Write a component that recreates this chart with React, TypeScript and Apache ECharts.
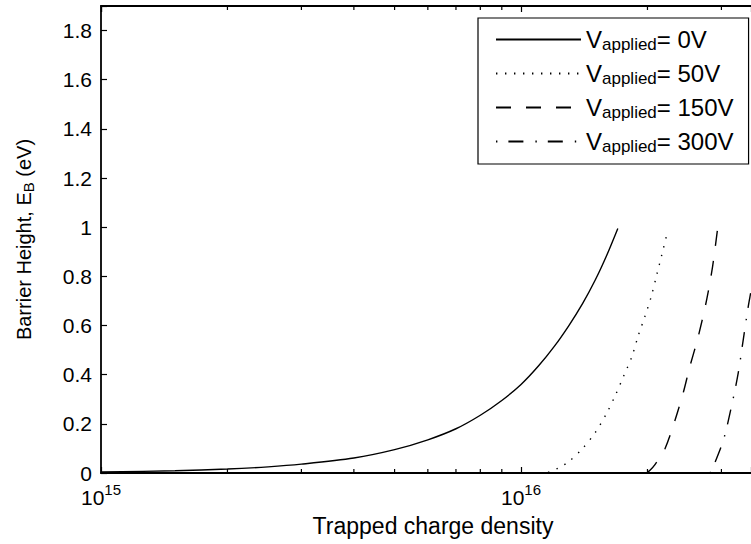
import React, { useEffect, useRef } from "react";
import * as echarts from "echarts";

// ---- data ----
const seriesNames = ["0V", "50V", "150V", "300V"];

const v0X = [1e15, 1.5e15, 2e15, 2.5e15, 3e15, 4e15, 5e15, 6e15, 7e15, 8e15, 9e15, 1e16, 1.1e16, 1.2e16, 1.3e16, 1.4e16, 1.5e16, 1.6e16, 1.7e16];
const v0Y = [0.004, 0.009, 0.016, 0.025, 0.036, 0.061, 0.095, 0.135, 0.18, 0.235, 0.295, 0.36, 0.435, 0.515, 0.6, 0.688, 0.783, 0.886, 0.995];

const v50X = [1.16e16, 1.227e16, 1.3e16, 1.393e16, 1.5e16, 1.6e16, 1.679e16, 1.754e16, 1.837e16, 1.901e16, 1.972e16, 2.042e16, 2.104e16, 2.163e16, 2.228e16];
const v50Y = [0.002, 0.02, 0.047, 0.095, 0.163, 0.244, 0.318, 0.393, 0.474, 0.558, 0.637, 0.718, 0.806, 0.887, 0.976];

const v150X = [1.991e16, 2.028e16, 2.084e16, 2.203e16, 2.328e16, 2.432e16, 2.523e16, 2.642e16, 2.767e16, 2.858e16, 2.938e16];
const v150Y = [0.0, 0.011, 0.034, 0.1, 0.217, 0.325, 0.433, 0.555, 0.705, 0.84, 0.995];

const v300X = [2.818e16, 2.871e16, 3.034e16, 3.17e16, 3.289e16, 3.381e16, 3.475e16, 3.532e16, 3.63e16, 3.73e16];
const v300Y = [0.0, 0.027, 0.135, 0.271, 0.406, 0.542, 0.677, 0.745, 0.87, 1.0];

const minorTickX = [2e15, 3e15, 4e15, 5e15, 6e15, 7e15, 8e15, 9e15, 2e16, 3e16];

const X_MIN = 1e15;
const X_MAX = 3.528e16;
const Y_MIN = 0;
const Y_MAX = 1.9;
const Y_INTERVAL = 0.2;

const FONT = "'Liberation Sans', Arial, Helvetica, sans-serif";

const zip = (xs: number[], ys: number[]) => xs.map((x, i) => [x, ys[i]]);

export default function App() {
  const ref = useRef<HTMLDivElement>(null);

  useEffect(() => {
    if (!ref.current) return;
    const chart = echarts.init(ref.current, undefined, { renderer: "svg" });

    const lineStyles: any[] = [
      { type: "solid", width: 1.4 },
      { type: [1.4, 7.6], width: 1.4 },
      { type: [15, 15], width: 1.4 },
      { type: [1.4, 11, 15, 12], width: 1.4 },
    ];
    const datas = [zip(v0X, v0Y), zip(v50X, v50Y), zip(v150X, v150Y), zip(v300X, v300Y)];

    const lineSeries = seriesNames.map((n, i) => ({
      name: n,
      type: "line",
      data: datas[i],
      symbol: "none",
      showSymbol: false,
      smooth: 0.3,
      clip: true,
      lineStyle: { color: "#000", ...lineStyles[i] },
      itemStyle: { color: "#000" },
    }));

    const axisTextCommon = { color: "#000", fontFamily: FONT };
    const axisLineStyle = { color: "#000", width: 1.8 };

    chart.setOption({
      animation: false,
      backgroundColor: "#fff",
      textStyle: { fontFamily: FONT, color: "#000" },
      grid: { left: 101, right: 0, top: 6, bottom: 71, containLabel: false, outerBoundsMode: "none" },
      legend: {
        data: seriesNames,
        orient: "vertical",
        left: 478,
        top: 18,
        itemWidth: 85,
        itemHeight: 14,
        itemGap: 7,
        padding: [8, 15, 9, 17],
        borderColor: "#000",
        borderWidth: 1.2,
        backgroundColor: "#fff",
        selectedMode: false,
        itemStyle: { color: "rgba(0,0,0,0)", borderWidth: 0, opacity: 0 },
        formatter: (name: string) => `{v|V}{sub|applied}{v|= ${name}}`,
        textStyle: {
          ...axisTextCommon,
          rich: {
            v: { fontSize: 24, fontFamily: FONT, color: "#000", lineHeight: 24 },
            sub: { fontSize: 17, fontFamily: FONT, color: "#000", padding: [10, 0, 0, 0], lineHeight: 16 },
          },
        },
      },
      xAxis: [
        {
          type: "log",
          logBase: 10,
          min: X_MIN,
          max: X_MAX,
          position: "bottom",
          name: "Trapped charge density",
          nameLocation: "middle",
          nameGap: 41,
          nameMoveOverlap: false,
          nameTextStyle: { ...axisTextCommon, fontSize: 23, padding: [0, 0, 0, 14] },
          axisLine: { lineStyle: axisLineStyle },
          axisTick: { inside: true, length: 6, lineStyle: { color: "#000", width: 1.2 } },
          splitLine: { show: false },
          axisLabel: {
            margin: 9,
            ...axisTextCommon,
            formatter: (v: number) => {
              const l = Math.log10(v);
              const e = Math.round(l);
              if (Math.abs(l - e) > 1e-6) return "";
              return `{b|10}{s|${e}}`;
            },
            rich: {
              b: { fontSize: 21, fontFamily: FONT, color: "#000", lineHeight: 21, padding: [10, 0, 0, 0] },
              s: { fontSize: 15, fontFamily: FONT, color: "#000", lineHeight: 16, verticalAlign: "top" },
            },
          },
        },
        {
          type: "log",
          logBase: 10,
          min: X_MIN,
          max: X_MAX,
          position: "top",
          axisLine: { lineStyle: axisLineStyle },
          axisTick: { inside: true, length: 6, lineStyle: { color: "#000", width: 1.2 } },
          axisLabel: { show: false },
          splitLine: { show: false },
        },
      ],
      yAxis: {
        type: "value",
        min: Y_MIN,
        max: Y_MAX,
        interval: Y_INTERVAL,
        name: "{a|Barrier Height, E}{sub|B}{a| (eV)}",
        nameLocation: "middle",
        nameGap: 66,
        nameMoveOverlap: false,
        nameRotate: 90,
        nameTextStyle: {
          ...axisTextCommon,
          rich: {
            a: { fontSize: 20, fontFamily: FONT, color: "#000", lineHeight: 22 },
            sub: { fontSize: 15, fontFamily: FONT, color: "#000", padding: [9, 0, 0, 0], lineHeight: 16 },
          },
        },
        axisLine: { show: true, lineStyle: axisLineStyle },
        axisTick: { show: true, inside: true, length: 6, lineStyle: { color: "#000", width: 1.2 } },
        splitLine: { show: false },
        axisLabel: {
          margin: 9,
          fontSize: 21,
          ...axisTextCommon,
          formatter: (v: number) => (v > Y_MAX - 0.05 ? "" : String(+v.toFixed(1))),
        },
      },
      series: [
        ...lineSeries,
        {
          name: "minorTicks",
          type: "custom",
          silent: true,
          xAxisIndex: 0,
          yAxisIndex: 0,
          data: minorTickX.map((x) => [x, Y_MIN]),
          renderItem: (params: any, api: any) => {
            const x = api.value(0);
            const pb = api.coord([x, Y_MIN]);
            const pt = api.coord([x, Y_MAX]);
            const st = { stroke: "#000", lineWidth: 1.2 };
            return {
              type: "group",
              children: [
                { type: "line", shape: { x1: pb[0], y1: pb[1], x2: pb[0], y2: pb[1] - 4 }, style: st },
                { type: "line", shape: { x1: pt[0], y1: pt[1], x2: pt[0], y2: pt[1] + 4 }, style: st },
              ],
            };
          },
        },
      ],
    });

    return () => chart.dispose();
  }, []);

  return <div ref={ref} style={{ width: 751, height: 544, position: "absolute", left: 0, top: 0 }} />;
}
